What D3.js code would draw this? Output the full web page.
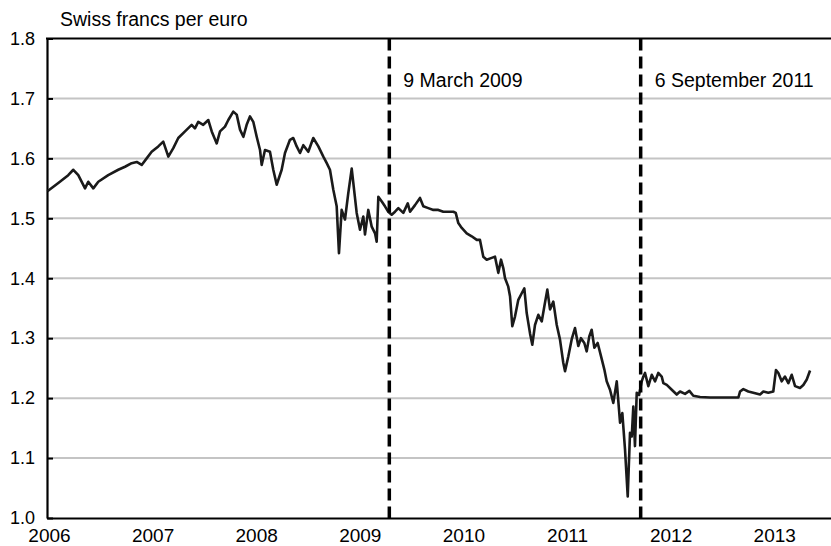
<!DOCTYPE html>
<html>
<head>
<meta charset="utf-8">
<script src="https://cdn.jsdelivr.net/npm/d3@7"></script>
<style>
  html, body { margin: 0; padding: 0; background: #fff; }
  svg { display: block; font-family: "Liberation Sans", Arial, sans-serif; }
</style>
</head>
<body>
<svg id="chart" width="831" height="546"></svg>
<script>
// ---- data (decimal years, Swiss francs per euro) ----
const dates = [
  2005.985, 2006.090, 2006.186, 2006.235, 2006.283, 2006.348, 2006.379, 2006.428, 2006.476, 2006.572,
  2006.669, 2006.734, 2006.798, 2006.847, 2006.895, 2006.943, 2006.991, 2007.055, 2007.103, 2007.152,
  2007.200, 2007.248, 2007.313, 2007.377, 2007.409, 2007.441, 2007.489, 2007.538, 2007.571, 2007.619,
  2007.651, 2007.699, 2007.731, 2007.779, 2007.812, 2007.844, 2007.876, 2007.908, 2007.940, 2007.972,
  2008.005, 2008.037, 2008.053, 2008.085, 2008.133, 2008.165, 2008.198, 2008.246, 2008.278, 2008.326,
  2008.358, 2008.391, 2008.423, 2008.455, 2008.503, 2008.551, 2008.600, 2008.648, 2008.681, 2008.712,
  2008.744, 2008.777, 2008.799, 2008.825, 2008.857, 2008.889, 2008.922, 2008.970, 2009.002, 2009.034,
  2009.050, 2009.082, 2009.115, 2009.147, 2009.163, 2009.179, 2009.212, 2009.243, 2009.275, 2009.308,
  2009.340, 2009.372, 2009.420, 2009.463, 2009.485, 2009.533, 2009.581, 2009.613, 2009.661, 2009.710,
  2009.758, 2009.806, 2009.854, 2009.903, 2009.926, 2009.951, 2009.984, 2010.032, 2010.080, 2010.129,
  2010.160, 2010.192, 2010.225, 2010.273, 2010.305, 2010.337, 2010.363, 2010.385, 2010.402, 2010.433,
  2010.450, 2010.472, 2010.498, 2010.530, 2010.563, 2010.588, 2010.611, 2010.643, 2010.665, 2010.691,
  2010.723, 2010.756, 2010.781, 2010.810, 2010.836, 2010.868, 2010.901, 2010.932, 2010.964, 2010.981,
  2011.013, 2011.045, 2011.077, 2011.109, 2011.135, 2011.167, 2011.190, 2011.215, 2011.238, 2011.264,
  2011.296, 2011.328, 2011.360, 2011.383, 2011.415, 2011.447, 2011.480, 2011.512, 2011.534, 2011.560,
  2011.586, 2011.608, 2011.625, 2011.640, 2011.656, 2011.673, 2011.695, 2011.721, 2011.737, 2011.753,
  2011.785, 2011.818, 2011.850, 2011.881, 2011.914, 2011.930, 2011.963, 2012.011, 2012.059, 2012.091,
  2012.139, 2012.181, 2012.219, 2012.284, 2012.381, 2012.509, 2012.654, 2012.670, 2012.702, 2012.750,
  2012.798, 2012.863, 2012.895, 2012.943, 2012.991, 2013.017, 2013.040, 2013.072, 2013.104, 2013.136,
  2013.169, 2013.201, 2013.249, 2013.281, 2013.314, 2013.346
];
const rates = [
  1.545, 1.559, 1.572, 1.581, 1.572, 1.550, 1.561, 1.550, 1.561, 1.572,
  1.581, 1.586, 1.592, 1.594, 1.589, 1.600, 1.611, 1.620, 1.628, 1.603,
  1.617, 1.634, 1.645, 1.656, 1.650, 1.661, 1.656, 1.664, 1.645, 1.625,
  1.645, 1.653, 1.664, 1.678, 1.673, 1.648, 1.636, 1.656, 1.670, 1.661,
  1.636, 1.614, 1.589, 1.614, 1.611, 1.581, 1.556, 1.581, 1.609, 1.631,
  1.634, 1.620, 1.609, 1.622, 1.611, 1.634, 1.620, 1.603, 1.592, 1.581,
  1.548, 1.520, 1.442, 1.514, 1.498, 1.542, 1.583, 1.509, 1.481, 1.503,
  1.473, 1.514, 1.486, 1.475, 1.461, 1.536, 1.528, 1.520, 1.511, 1.506,
  1.511, 1.517, 1.509, 1.525, 1.511, 1.522, 1.534, 1.520, 1.517, 1.514,
  1.514, 1.511, 1.511, 1.511, 1.509, 1.492, 1.484, 1.475, 1.470, 1.464,
  1.464, 1.436, 1.431, 1.434, 1.436, 1.409, 1.431, 1.417, 1.400, 1.386,
  1.370, 1.320, 1.336, 1.364, 1.375, 1.383, 1.342, 1.308, 1.289, 1.322,
  1.339, 1.328, 1.353, 1.381, 1.348, 1.361, 1.322, 1.298, 1.259, 1.245,
  1.270, 1.298, 1.317, 1.287, 1.300, 1.292, 1.278, 1.303, 1.314, 1.284,
  1.292, 1.270, 1.248, 1.228, 1.214, 1.192, 1.228, 1.159, 1.175, 1.114,
  1.036, 1.142, 1.136, 1.186, 1.120, 1.209, 1.205, 1.228, 1.236, 1.242,
  1.220, 1.239, 1.228, 1.242, 1.236, 1.225, 1.222, 1.214, 1.206, 1.211,
  1.207, 1.212, 1.204, 1.202, 1.201, 1.201, 1.201, 1.211, 1.215, 1.211,
  1.209, 1.206, 1.211, 1.209, 1.211, 1.247, 1.242, 1.228, 1.236, 1.225,
  1.239, 1.220, 1.217, 1.222, 1.231, 1.246
];
const yearTicks = [2006, 2007, 2008, 2009, 2010, 2011, 2012, 2013];
const valueTicks = [1.0, 1.1, 1.2, 1.3, 1.4, 1.5, 1.6, 1.7, 1.8];
const eventDates = [2009.285, 2011.711];
const eventLabels = ["9 March 2009", "6 September 2011"];
const unitLabel = "Swiss francs per euro";

// ---- layout ----
const svg = d3.select("#chart");
const mLeft = 47, mRight = 831, mTop = 38.5, mBottom = 518;

const x = d3.scaleLinear().domain([2005.981, 2013.548]).range([mLeft, mRight]);
const y = d3.scaleLinear().domain([1.0, 1.8]).range([mBottom, mTop]);

// gridlines
svg.append("g").selectAll("line")
  .data(valueTicks.filter(v => v > 1.0 && v < 1.8))
  .join("line")
  .attr("x1", mLeft).attr("x2", mRight)
  .attr("y1", d => y(d)).attr("y2", d => y(d))
  .attr("stroke", "#c4c4c4").attr("stroke-width", 2);

// y axis
const yAxis = d3.axisLeft(y).tickValues(valueTicks).tickFormat(d3.format(".1f")).tickSizeInner(-6).tickSizeOuter(0).tickPadding(12);
const gy = svg.append("g").attr("transform", `translate(${mLeft},0)`).call(yAxis);
gy.select(".domain").attr("stroke", "#000").attr("stroke-width", 2.2);
gy.selectAll(".tick line").attr("stroke", "#000").attr("stroke-width", 2);
gy.selectAll(".tick text").attr("font-size", 18).attr("fill", "#000")
  .attr("font-family", "'Liberation Sans', Arial, sans-serif");

// x axis
const xAxis = d3.axisBottom(x).tickValues(yearTicks).tickFormat(d3.format("d")).tickSize(0).tickPadding(11);
const gx = svg.append("g").attr("transform", `translate(0,${mBottom})`).call(xAxis);
gx.select(".domain").attr("stroke", "#000").attr("stroke-width", 2.2);
gx.selectAll(".tick text").attr("font-size", 19).attr("fill", "#000")
  .attr("font-family", "'Liberation Sans', Arial, sans-serif")
  .attr("dy", "0.66em");

// top border
svg.append("line").attr("x1", mLeft - 1).attr("x2", mRight).attr("y1", mTop).attr("y2", mTop)
  .attr("stroke", "#000").attr("stroke-width", 2.2);

// series
const series = dates.map((d, i) => ({ t: d, v: rates[i] }));
svg.append("path")
  .datum(series)
  .attr("fill", "none")
  .attr("stroke", "#1a1a1a")
  .attr("stroke-width", 2.6)
  .attr("stroke-linejoin", "round")
  .attr("d", d3.line().x(d => x(d.t)).y(d => y(d.v)));

// event markers
svg.append("g").selectAll("line")
  .data(eventDates)
  .join("line")
  .attr("x1", d => x(d)).attr("x2", d => x(d))
  .attr("y1", mTop).attr("y2", mBottom)
  .attr("stroke", "#000").attr("stroke-width", 3.5)
  .attr("stroke-dasharray", "12,6");

svg.append("g").selectAll("text")
  .data(eventLabels)
  .join("text")
  .attr("x", (d, i) => x(eventDates[i]) + 14)
  .attr("y", 87)
  .attr("font-size", 19.5)
  .attr("fill", "#000")
  .text(d => d);

// unit label
svg.append("text").attr("x", 60).attr("y", 26).attr("font-size", 19.5).attr("fill", "#000").text(unitLabel);
</script>
</body>
</html>
